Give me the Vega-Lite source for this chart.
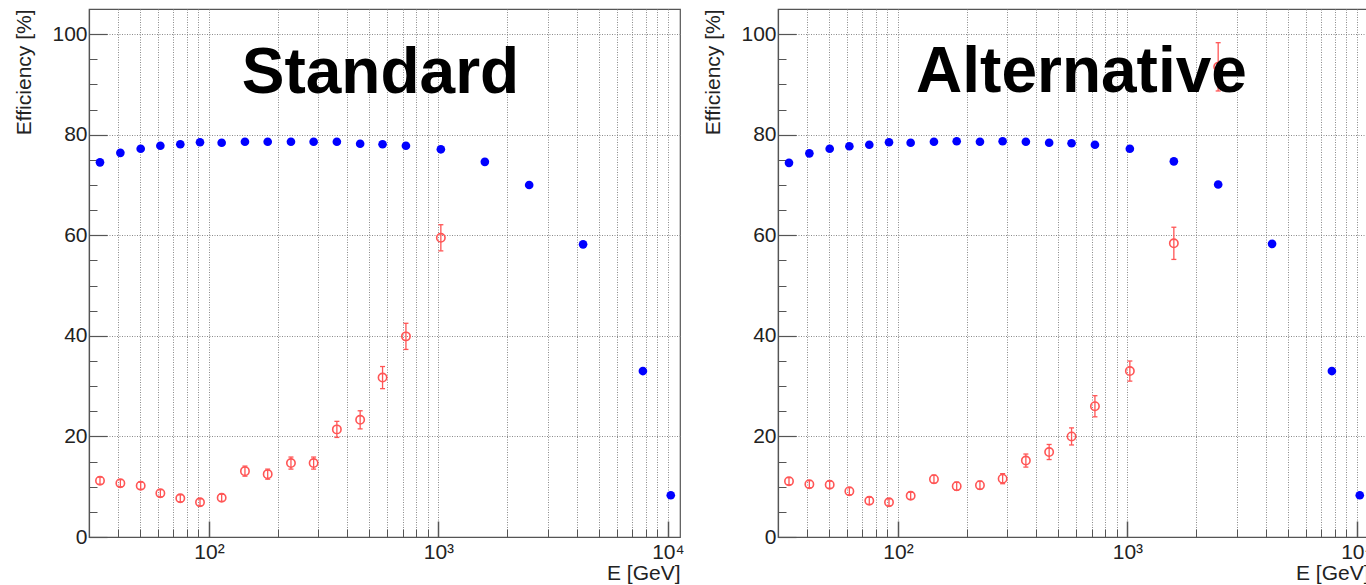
{
  "$schema": "https://vega.github.io/schema/vega-lite/v6.json",
  "padding": {"left": 13, "top": 8, "right": 0, "bottom": 0},
  "background": "white",
  "config": {
    "view": {"stroke": "#555", "strokeWidth": 1.2},
    "font": "Liberation Sans"
  },
  "data": {"values": [
    {"panel": "Standard", "marker": "filled", "E": 33.5, "eff": 74.5},
    {"panel": "Standard", "marker": "filled", "E": 41.1, "eff": 76.4},
    {"panel": "Standard", "marker": "filled", "E": 50.4, "eff": 77.2},
    {"panel": "Standard", "marker": "filled", "E": 61.4, "eff": 77.8},
    {"panel": "Standard", "marker": "filled", "E": 75, "eff": 78.1},
    {"panel": "Standard", "marker": "filled", "E": 91.4, "eff": 78.5},
    {"panel": "Standard", "marker": "filled", "E": 113.6, "eff": 78.4},
    {"panel": "Standard", "marker": "filled", "E": 143.5, "eff": 78.6},
    {"panel": "Standard", "marker": "filled", "E": 180.3, "eff": 78.6},
    {"panel": "Standard", "marker": "filled", "E": 227.7, "eff": 78.6},
    {"panel": "Standard", "marker": "filled", "E": 285.9, "eff": 78.6},
    {"panel": "Standard", "marker": "filled", "E": 361, "eff": 78.6},
    {"panel": "Standard", "marker": "filled", "E": 456, "eff": 78.2},
    {"panel": "Standard", "marker": "filled", "E": 571, "eff": 78.1},
    {"panel": "Standard", "marker": "filled", "E": 722, "eff": 77.8},
    {"panel": "Standard", "marker": "filled", "E": 1025, "eff": 77.1},
    {"panel": "Standard", "marker": "filled", "E": 1594, "eff": 74.6},
    {"panel": "Standard", "marker": "filled", "E": 2487, "eff": 70.0},
    {"panel": "Standard", "marker": "filled", "E": 4272, "eff": 58.2},
    {"panel": "Standard", "marker": "filled", "E": 7787, "eff": 33.0},
    {"panel": "Standard", "marker": "filled", "E": 10300, "eff": 8.3},
    {"panel": "Standard", "marker": "open", "E": 33.5, "eff": 11.2, "lo": 10.5, "hi": 11.9},
    {"panel": "Standard", "marker": "open", "E": 41.1, "eff": 10.7, "lo": 10.0, "hi": 11.4},
    {"panel": "Standard", "marker": "open", "E": 50.4, "eff": 10.2, "lo": 9.5, "hi": 10.9},
    {"panel": "Standard", "marker": "open", "E": 61.4, "eff": 8.7, "lo": 8.0, "hi": 9.4},
    {"panel": "Standard", "marker": "open", "E": 75, "eff": 7.7, "lo": 7.0, "hi": 8.4},
    {"panel": "Standard", "marker": "open", "E": 91.4, "eff": 6.9, "lo": 6.2, "hi": 7.6},
    {"panel": "Standard", "marker": "open", "E": 113.6, "eff": 7.8, "lo": 7.1, "hi": 8.5},
    {"panel": "Standard", "marker": "open", "E": 143.5, "eff": 13.1, "lo": 12.1, "hi": 14.1},
    {"panel": "Standard", "marker": "open", "E": 180.3, "eff": 12.5, "lo": 11.5, "hi": 13.5},
    {"panel": "Standard", "marker": "open", "E": 227.7, "eff": 14.7, "lo": 13.5, "hi": 15.9},
    {"panel": "Standard", "marker": "open", "E": 285.9, "eff": 14.7, "lo": 13.5, "hi": 15.9},
    {"panel": "Standard", "marker": "open", "E": 361, "eff": 21.4, "lo": 19.8, "hi": 23.0},
    {"panel": "Standard", "marker": "open", "E": 456, "eff": 23.3, "lo": 21.5, "hi": 25.1},
    {"panel": "Standard", "marker": "open", "E": 571, "eff": 31.7, "lo": 29.5, "hi": 33.9},
    {"panel": "Standard", "marker": "open", "E": 722, "eff": 39.9, "lo": 37.3, "hi": 42.5},
    {"panel": "Standard", "marker": "open", "E": 1025, "eff": 59.5, "lo": 56.9, "hi": 62.1},
    {"panel": "Alternative", "marker": "filled", "E": 33.5, "eff": 74.4},
    {"panel": "Alternative", "marker": "filled", "E": 41.1, "eff": 76.3},
    {"panel": "Alternative", "marker": "filled", "E": 50.4, "eff": 77.2},
    {"panel": "Alternative", "marker": "filled", "E": 61.4, "eff": 77.7},
    {"panel": "Alternative", "marker": "filled", "E": 75, "eff": 78.0},
    {"panel": "Alternative", "marker": "filled", "E": 91.4, "eff": 78.5},
    {"panel": "Alternative", "marker": "filled", "E": 113.6, "eff": 78.4},
    {"panel": "Alternative", "marker": "filled", "E": 143.5, "eff": 78.6},
    {"panel": "Alternative", "marker": "filled", "E": 180.3, "eff": 78.7},
    {"panel": "Alternative", "marker": "filled", "E": 227.7, "eff": 78.6},
    {"panel": "Alternative", "marker": "filled", "E": 285.9, "eff": 78.7},
    {"panel": "Alternative", "marker": "filled", "E": 361, "eff": 78.6},
    {"panel": "Alternative", "marker": "filled", "E": 456, "eff": 78.4},
    {"panel": "Alternative", "marker": "filled", "E": 571, "eff": 78.3},
    {"panel": "Alternative", "marker": "filled", "E": 722, "eff": 78.0},
    {"panel": "Alternative", "marker": "filled", "E": 1025, "eff": 77.2},
    {"panel": "Alternative", "marker": "filled", "E": 1594, "eff": 74.7},
    {"panel": "Alternative", "marker": "filled", "E": 2487, "eff": 70.1},
    {"panel": "Alternative", "marker": "filled", "E": 4272, "eff": 58.3},
    {"panel": "Alternative", "marker": "filled", "E": 7787, "eff": 33.0},
    {"panel": "Alternative", "marker": "filled", "E": 10300, "eff": 8.3},
    {"panel": "Alternative", "marker": "open", "E": 33.5, "eff": 11.1, "lo": 10.4, "hi": 11.8},
    {"panel": "Alternative", "marker": "open", "E": 41.1, "eff": 10.5, "lo": 9.8, "hi": 11.2},
    {"panel": "Alternative", "marker": "open", "E": 50.4, "eff": 10.4, "lo": 9.7, "hi": 11.1},
    {"panel": "Alternative", "marker": "open", "E": 61.4, "eff": 9.1, "lo": 8.4, "hi": 9.8},
    {"panel": "Alternative", "marker": "open", "E": 75, "eff": 7.2, "lo": 6.5, "hi": 7.9},
    {"panel": "Alternative", "marker": "open", "E": 91.4, "eff": 6.9, "lo": 6.2, "hi": 7.6},
    {"panel": "Alternative", "marker": "open", "E": 113.6, "eff": 8.2, "lo": 7.5, "hi": 8.9},
    {"panel": "Alternative", "marker": "open", "E": 143.5, "eff": 11.5, "lo": 10.7, "hi": 12.3},
    {"panel": "Alternative", "marker": "open", "E": 180.3, "eff": 10.1, "lo": 9.3, "hi": 10.9},
    {"panel": "Alternative", "marker": "open", "E": 227.7, "eff": 10.3, "lo": 9.5, "hi": 11.1},
    {"panel": "Alternative", "marker": "open", "E": 285.9, "eff": 11.6, "lo": 10.6, "hi": 12.6},
    {"panel": "Alternative", "marker": "open", "E": 361, "eff": 15.2, "lo": 13.9, "hi": 16.5},
    {"panel": "Alternative", "marker": "open", "E": 456, "eff": 16.9, "lo": 15.4, "hi": 18.4},
    {"panel": "Alternative", "marker": "open", "E": 571, "eff": 20.0, "lo": 18.3, "hi": 21.7},
    {"panel": "Alternative", "marker": "open", "E": 722, "eff": 26.0, "lo": 23.9, "hi": 28.1},
    {"panel": "Alternative", "marker": "open", "E": 1025, "eff": 33.0, "lo": 31.0, "hi": 35.0},
    {"panel": "Alternative", "marker": "open", "E": 1594, "eff": 58.4, "lo": 55.2, "hi": 61.6},
    {"panel": "Alternative", "marker": "open", "E": 2487, "eff": 93.5, "lo": 88.7, "hi": 98.3}
  ]},
  "spacing": 17,
  "hconcat": [
    {
      "width": 591, "height": 528,
      "transform": [{"filter": "datum.panel == 'Standard'"}],
      "layer": [
        {
          "transform": [{"filter": "datum.marker == 'open'"}],
          "mark": {"type": "rule", "color": "#ff5555", "strokeWidth": 1.3},
          "encoding": {
            "x": {"field": "E", "type": "quantitative", "scale": {"type": "log", "domain": [30, 11300], "nice": false},
              "axis": {"orient": "bottom", "values": [40,50,60,70,80,90,100,200,300,400,500,600,700,800,900,1000,2000,3000,4000,5000,6000,7000,8000,9000,10000],
                "tickSize": -8, "tickColor": "#555", "tickWidth": 1, "labels": false, "title": null,
                "grid": true, "gridColor": "#8a8a8a", "gridDash": [1, 1.5], "gridWidth": 1,
                "domain": true, "domainColor": "#555", "domainWidth": 1.2}},
            "y": {"field": "lo", "type": "quantitative", "scale": {"domain": [0, 105], "nice": false, "zero": false},
              "axis": {"orient": "left", "values": [5,10,15,25,30,35,45,50,55,65,70,75,85,90,95],
                "tickSize": -8, "tickColor": "#555", "tickWidth": 1, "labels": false, "title": null,
                "grid": false, "domain": true, "domainColor": "#555", "domainWidth": 1.2}},
            "y2": {"field": "hi"}
          }
        },
        {
          "transform": [{"filter": "datum.marker == 'open'"}],
          "mark": {"type": "tick", "orient": "horizontal", "size": 5, "thickness": 1.3, "color": "#ff5555", "opacity": 1},
          "encoding": {
            "x": {"field": "E", "type": "quantitative", "axis": null},
            "y": {"field": "lo", "type": "quantitative", "axis": null}
          }
        },
        {
          "transform": [{"filter": "datum.marker == 'open'"}],
          "mark": {"type": "tick", "orient": "horizontal", "size": 5, "thickness": 1.3, "color": "#ff5555", "opacity": 1},
          "encoding": {
            "x": {"field": "E", "type": "quantitative", "axis": null},
            "y": {"field": "hi", "type": "quantitative", "axis": null}
          }
        },
        {
          "transform": [{"filter": "datum.marker == 'filled'"}],
          "mark": {"type": "point", "shape": "circle", "filled": true, "size": 75, "color": "#0000ff", "opacity": 1},
          "encoding": {
            "x": {"field": "E", "type": "quantitative",
              "axis": {"orient": "bottom", "values": [100, 1000, 10000], "tickSize": -16, "tickColor": "#555", "tickWidth": 1.5,
                "grid": false, "domain": false,
                "labelExpr": "datum.value == 100 ? '10²' : datum.value == 1000 ? '10³' : '10⁴'",
                "labelFont": "Liberation Sans", "labelFontSize": 21, "labelColor": "#222", "labelPadding": 20, "labelFlush": false,
                "title": "E [GeV]", "titleAnchor": "end", "titleFont": "Liberation Sans", "titleFontSize": 21,
                "titleFontWeight": "normal", "titleColor": "#222", "titlePadding": 0}},
            "y": {"field": "eff", "type": "quantitative",
              "axis": {"orient": "left", "values": [0, 20, 40, 60, 80, 100], "tickSize": -18, "tickColor": "#555", "tickWidth": 1.2,
                "grid": true, "gridColor": "#8a8a8a", "gridDash": [1, 1.5], "gridWidth": 1, "domain": false,
                "labelFont": "Liberation Sans", "labelFontSize": 21, "labelColor": "#222", "labelPadding": 20,
                "title": "Efficiency [%]", "titleAnchor": "end", "titleFont": "Liberation Sans", "titleFontSize": 21,
                "titleFontWeight": "normal", "titleColor": "#222", "titlePadding": 17}}
          }
        },
        {
          "transform": [{"filter": "datum.marker == 'open'"}],
          "mark": {"type": "point", "shape": "circle", "filled": false, "size": 70, "strokeWidth": 1.6, "color": "#ff5555", "opacity": 1},
          "encoding": {
            "x": {"field": "E", "type": "quantitative", "axis": null},
            "y": {"field": "eff", "type": "quantitative", "axis": null}
          }
        },
        {
          "data": {"values": [{}]},
          "mark": {"type": "text", "text": "Standard", "font": "Liberation Sans", "fontSize": 64, "fontWeight": "bold", "align": "center", "baseline": "alphabetic", "color": "black"},
          "encoding": {
            "x": {"datum": 559, "type": "quantitative", "axis": null},
            "y": {"datum": 88.3, "type": "quantitative", "axis": null}
          }
        }
      ],
      "resolve": {"axis": {"x": "independent", "y": "independent"}}
    },
    {
      "width": 591, "height": 528,
      "transform": [{"filter": "datum.panel == 'Alternative'"}],
      "layer": [
        {
          "transform": [{"filter": "datum.marker == 'open'"}],
          "mark": {"type": "rule", "color": "#ff5555", "strokeWidth": 1.3},
          "encoding": {
            "x": {"field": "E", "type": "quantitative", "scale": {"type": "log", "domain": [30, 11300], "nice": false},
              "axis": {"orient": "bottom", "values": [40,50,60,70,80,90,100,200,300,400,500,600,700,800,900,1000,2000,3000,4000,5000,6000,7000,8000,9000,10000],
                "tickSize": -8, "tickColor": "#555", "tickWidth": 1, "labels": false, "title": null,
                "grid": true, "gridColor": "#8a8a8a", "gridDash": [1, 1.5], "gridWidth": 1,
                "domain": true, "domainColor": "#555", "domainWidth": 1.2}},
            "y": {"field": "lo", "type": "quantitative", "scale": {"domain": [0, 105], "nice": false, "zero": false},
              "axis": {"orient": "left", "values": [5,10,15,25,30,35,45,50,55,65,70,75,85,90,95],
                "tickSize": -8, "tickColor": "#555", "tickWidth": 1, "labels": false, "title": null,
                "grid": false, "domain": true, "domainColor": "#555", "domainWidth": 1.2}},
            "y2": {"field": "hi"}
          }
        },
        {
          "transform": [{"filter": "datum.marker == 'open'"}],
          "mark": {"type": "tick", "orient": "horizontal", "size": 5, "thickness": 1.3, "color": "#ff5555", "opacity": 1},
          "encoding": {
            "x": {"field": "E", "type": "quantitative", "axis": null},
            "y": {"field": "lo", "type": "quantitative", "axis": null}
          }
        },
        {
          "transform": [{"filter": "datum.marker == 'open'"}],
          "mark": {"type": "tick", "orient": "horizontal", "size": 5, "thickness": 1.3, "color": "#ff5555", "opacity": 1},
          "encoding": {
            "x": {"field": "E", "type": "quantitative", "axis": null},
            "y": {"field": "hi", "type": "quantitative", "axis": null}
          }
        },
        {
          "transform": [{"filter": "datum.marker == 'filled'"}],
          "mark": {"type": "point", "shape": "circle", "filled": true, "size": 75, "color": "#0000ff", "opacity": 1},
          "encoding": {
            "x": {"field": "E", "type": "quantitative",
              "axis": {"orient": "bottom", "values": [100, 1000, 10000], "tickSize": -16, "tickColor": "#555", "tickWidth": 1.5,
                "grid": false, "domain": false,
                "labelExpr": "datum.value == 100 ? '10²' : datum.value == 1000 ? '10³' : '10⁴'",
                "labelFont": "Liberation Sans", "labelFontSize": 21, "labelColor": "#222", "labelPadding": 20, "labelFlush": false,
                "title": "E [GeV]", "titleAnchor": "end", "titleFont": "Liberation Sans", "titleFontSize": 21,
                "titleFontWeight": "normal", "titleColor": "#222", "titlePadding": 0}},
            "y": {"field": "eff", "type": "quantitative",
              "axis": {"orient": "left", "values": [0, 20, 40, 60, 80, 100], "tickSize": -18, "tickColor": "#555", "tickWidth": 1.2,
                "grid": true, "gridColor": "#8a8a8a", "gridDash": [1, 1.5], "gridWidth": 1, "domain": false,
                "labelFont": "Liberation Sans", "labelFontSize": 21, "labelColor": "#222", "labelPadding": 20,
                "title": "Efficiency [%]", "titleAnchor": "end", "titleFont": "Liberation Sans", "titleFontSize": 21,
                "titleFontWeight": "normal", "titleColor": "#222", "titlePadding": 17}}
          }
        },
        {
          "transform": [{"filter": "datum.marker == 'open'"}],
          "mark": {"type": "point", "shape": "circle", "filled": false, "size": 70, "strokeWidth": 1.6, "color": "#ff5555", "opacity": 1},
          "encoding": {
            "x": {"field": "E", "type": "quantitative", "axis": null},
            "y": {"field": "eff", "type": "quantitative", "axis": null}
          }
        },
        {
          "data": {"values": [{}]},
          "mark": {"type": "text", "text": "Alternative", "font": "Liberation Sans", "fontSize": 64, "fontWeight": "bold", "align": "center", "baseline": "alphabetic", "color": "black"},
          "encoding": {
            "x": {"datum": 631, "type": "quantitative", "axis": null},
            "y": {"datum": 88.4, "type": "quantitative", "axis": null}
          }
        }
      ],
      "resolve": {"axis": {"x": "independent", "y": "independent"}}
    }
  ]
}
